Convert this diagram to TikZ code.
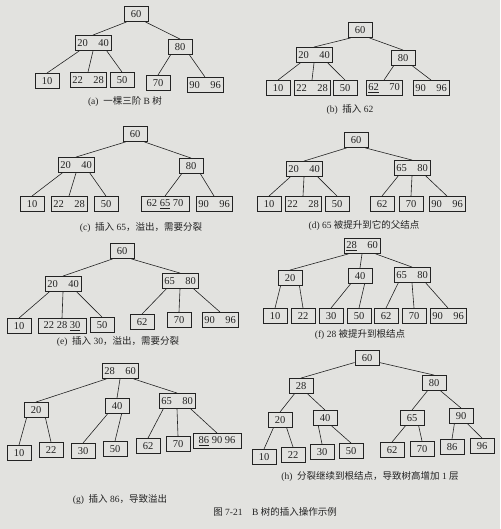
\documentclass[tikz,border=0pt]{standalone}
\usepackage{fontspec}
\setmainfont{Liberation Serif}
\newfontfamily\cjk{Noto Sans CJK SC}
\usetikzlibrary{positioning}
\definecolor{paper}{RGB}{226, 226, 223}
\definecolor{ink}{RGB}{35, 35, 35}
\newcommand{\zh}[1]{{\cjk #1}}

\tikzset{
  bnode/.style={draw=ink, line width=0.9pt, text=ink, minimum width=24pt, minimum height=15pt, inner sep=2pt, font=\fontsize{10.5}{12}\selectfont},
  bnodetwo/.style={bnode, minimum width=36pt},
  bnodethree/.style={bnode, minimum width=48pt},
  subcap/.style={text=ink, font=\fontsize{9.5}{11}\selectfont},
  link/.style={draw=ink, line width=0.6pt}
}

\begin{document}
\begin{tikzpicture}[x=1pt, y=-1pt]
  \fill[paper] (0,0) rectangle (500,529);
  \useasboundingbox (0,0) rectangle (500,529);

  % (a) a 3-order B-tree
  \node[bnode] (a1) at (136,14) {60};
  \node[bnodetwo] (a2) at (93,43) {20\quad 40};
  \node[bnode] (a3) at (180,47) {80};
  \node[bnode] (a4) at (47,81) {10};
  \node[bnodetwo] (a5) at (88,80) {22\quad 28};
  \node[bnode] (a6) at (122,80) {50};
  \node[bnode] (a7) at (158,83) {70};
  \node[bnodetwo] (a8) at (205,85) {90\quad 96};
  \draw[link] (a1.220) -- (a2.north);
  \draw[link] (a1.320) -- (a3.north);
  \draw[link] (a2.210) -- (a4.north);
  \draw[link] (a2.270) -- (a5.north);
  \draw[link] (a2.330) -- (a6.north);
  \draw[link] (a3.220) -- (a7.north);
  \draw[link] (a3.320) -- (a8.north);
  \node[subcap] (acap) at (125,101) {(a)\ \ \zh{一棵三阶} B \zh{树}};

  % (b) insert 62
  \node[bnode] (b1) at (360,30) {60};
  \node[bnodetwo] (b2) at (314,55) {20\quad 40};
  \node[bnode] (b3) at (403,58) {80};
  \node[bnode] (b4) at (278,88) {10};
  \node[bnodetwo] (b5) at (312,88) {22\quad 28};
  \node[bnode] (b6) at (345,88) {50};
  \node[bnodetwo] (b7) at (384,88) {\underline{62}\quad 70};
  \node[bnodetwo] (b8) at (431,88) {90\quad 96};
  \draw[link] (b1.220) -- (b2.north);
  \draw[link] (b1.320) -- (b3.north);
  \draw[link] (b2.210) -- (b4.north);
  \draw[link] (b2.270) -- (b5.north);
  \draw[link] (b2.330) -- (b6.north);
  \draw[link] (b3.220) -- (b7.north);
  \draw[link] (b3.320) -- (b8.north);
  \node[subcap] (bcap) at (350,110) {(b)\ \ \zh{插入} 62};

  % (c) insert 65, overflow
  \node[bnode] (c1) at (135,134) {60};
  \node[bnodetwo] (c2) at (76,165) {20\quad 40};
  \node[bnode] (c3) at (191,166) {80};
  \node[bnode] (c4) at (32,204) {10};
  \node[bnodetwo] (c5) at (69,204) {22\quad 28};
  \node[bnode] (c6) at (106,204) {50};
  \node[bnodethree] (c7) at (165,204) {62 \underline{65} 70};
  \node[bnodetwo] (c8) at (214,204) {90\quad 96};
  \draw[link] (c1.220) -- (c2.north);
  \draw[link] (c1.320) -- (c3.north);
  \draw[link] (c2.210) -- (c4.north);
  \draw[link] (c2.270) -- (c5.north);
  \draw[link] (c2.330) -- (c6.north);
  \draw[link] (c3.220) -- (c7.north);
  \draw[link] (c3.320) -- (c8.north);
  \node[subcap] (ccap) at (141,228) {(c)\ \ \zh{插入} 65\zh{，溢出，需要分裂}};

  % (d) 65 moves up
  \node[bnode] (d1) at (356,140) {60};
  \node[bnodetwo] (d2) at (304,169) {20\quad 40};
  \node[bnodetwo] (d3) at (412,168) {65\quad 80};
  \node[bnode] (d4) at (269,204) {10};
  \node[bnodetwo] (d5) at (303,204) {22\quad 28};
  \node[bnode] (d6) at (337,204) {50};
  \node[bnode] (d7) at (382,204) {62};
  \node[bnode] (d8) at (411,204) {70};
  \node[bnodetwo] (d9) at (447,204) {90\quad 96};
  \draw[link] (d1.220) -- (d2.north);
  \draw[link] (d1.320) -- (d3.north);
  \draw[link] (d2.210) -- (d4.north);
  \draw[link] (d2.270) -- (d5.north);
  \draw[link] (d2.330) -- (d6.north);
  \draw[link] (d3.210) -- (d7.north);
  \draw[link] (d3.270) -- (d8.north);
  \draw[link] (d3.330) -- (d9.north);
  \node[subcap] (dcap) at (364,225) {(d) 65 \zh{被提升到它的父结点}};

  % (e) insert 30, overflow
  \node[bnode] (e1) at (122,251) {60};
  \node[bnodetwo] (e2) at (63,284) {20\quad 40};
  \node[bnodetwo] (e3) at (180,281) {65\quad 80};
  \node[bnode] (e4) at (19,326) {10};
  \node[bnodethree] (e5) at (62,326) {22 28 \underline{30}};
  \node[bnode] (e6) at (102,325) {50};
  \node[bnode] (e7) at (142,322) {62};
  \node[bnode] (e8) at (179,320) {70};
  \node[bnodetwo] (e9) at (220,320) {90\quad 96};
  \draw[link] (e1.220) -- (e2.north);
  \draw[link] (e1.320) -- (e3.north);
  \draw[link] (e2.210) -- (e4.north);
  \draw[link] (e2.270) -- (e5.north);
  \draw[link] (e2.330) -- (e6.north);
  \draw[link] (e3.210) -- (e7.north);
  \draw[link] (e3.270) -- (e8.north);
  \draw[link] (e3.330) -- (e9.north);
  \node[subcap] (ecap) at (118,342) {(e)\ \ \zh{插入} 30\zh{，溢出，需要分裂}};

  % (f) 28 moves up to the root
  \node[bnodetwo] (f1) at (362,246) {\underline{28}\quad 60};
  \node[bnode] (f2) at (290,278) {20};
  \node[bnode] (f3) at (360,276) {40};
  \node[bnodetwo] (f4) at (412,275) {65\quad 80};
  \node[bnode] (f5) at (275,316) {10};
  \node[bnode] (f6) at (303,316) {22};
  \node[bnode] (f7) at (331,316) {30};
  \node[bnode] (f8) at (359,316) {50};
  \node[bnode] (f9) at (386,316) {62};
  \node[bnode] (f10) at (414,316) {70};
  \node[bnodetwo] (f11) at (448,316) {90\quad 96};
  \draw[link] (f1.210) -- (f2.north);
  \draw[link] (f1.270) -- (f3.north);
  \draw[link] (f1.330) -- (f4.north);
  \draw[link] (f2.220) -- (f5.north);
  \draw[link] (f2.320) -- (f6.north);
  \draw[link] (f3.220) -- (f7.north);
  \draw[link] (f3.300) -- (f8.north);
  \draw[link] (f4.210) -- (f9.north);
  \draw[link] (f4.270) -- (f10.north);
  \draw[link] (f4.330) -- (f11.north);
  \node[subcap] (fcap) at (360,335) {(f) 28 \zh{被提升到根结点}};

  % (g) insert 86, overflow
  \node[bnodetwo] (g1) at (120,371) {28\quad 60};
  \node[bnode] (g2) at (36,410) {20};
  \node[bnode] (g3) at (117,406) {40};
  \node[bnodetwo] (g4) at (177,401) {65\quad 80};
  \node[bnode] (g5) at (19,453) {10};
  \node[bnode] (g6) at (51,450) {22};
  \node[bnode] (g7) at (83,451) {30};
  \node[bnode] (g8) at (115,449) {50};
  \node[bnode] (g9) at (148,446) {62};
  \node[bnode] (g10) at (178,444) {70};
  \node[bnodethree] (g11) at (217,441) {\underline{86} 90 96};
  \draw[link] (g1.210) -- (g2.north);
  \draw[link] (g1.270) -- (g3.north);
  \draw[link] (g1.330) -- (g4.north);
  \draw[link] (g2.220) -- (g5.north);
  \draw[link] (g2.320) -- (g6.north);
  \draw[link] (g3.220) -- (g7.north);
  \draw[link] (g3.300) -- (g8.north);
  \draw[link] (g4.210) -- (g9.north);
  \draw[link] (g4.270) -- (g10.north);
  \draw[link] (g4.330) -- (g11.north);
  \node[subcap] (gcap) at (120,500) {(g)\ \ \zh{插入} 86\zh{，导致溢出}};

  % (h) split reaches the root
  \node[bnode] (h1) at (367,358) {60};
  \node[bnode] (h2) at (301,386) {28};
  \node[bnode] (h3) at (434,383) {80};
  \node[bnode] (h4) at (280,420) {20};
  \node[bnode] (h5) at (325,418) {40};
  \node[bnode] (h6) at (412,418) {65};
  \node[bnode] (h7) at (461,416) {90};
  \node[bnode] (h8) at (264,457) {10};
  \node[bnode] (h9) at (293,455) {22};
  \node[bnode] (h10) at (322,452) {30};
  \node[bnode] (h11) at (351,451) {50};
  \node[bnode] (h12) at (392,450) {62};
  \node[bnode] (h13) at (422,449) {70};
  \node[bnode] (h14) at (452,447) {86};
  \node[bnode] (h15) at (482,446) {96};
  \draw[link] (h1.200) -- (h2.north);
  \draw[link] (h1.340) -- (h3.north);
  \draw[link] (h2.230) -- (h4.north);
  \draw[link] (h2.310) -- (h5.north);
  \draw[link] (h3.230) -- (h6.north);
  \draw[link] (h3.310) -- (h7.north);
  \draw[link] (h4.230) -- (h8.north);
  \draw[link] (h4.310) -- (h9.north);
  \draw[link] (h5.230) -- (h10.north);
  \draw[link] (h5.310) -- (h11.north);
  \draw[link] (h6.230) -- (h12.north);
  \draw[link] (h6.310) -- (h13.north);
  \draw[link] (h7.230) -- (h14.north);
  \draw[link] (h7.310) -- (h15.north);
  \node[subcap] (hcap) at (370,477) {(h)\ \ \zh{分裂继续到根结点，导致树高增加} 1 \zh{层}};

  % figure caption
  \node[subcap] (figcap) at (275,512) {\zh{图} 7-21\quad B \zh{树的插入操作示例}};
\end{tikzpicture}
\end{document}
